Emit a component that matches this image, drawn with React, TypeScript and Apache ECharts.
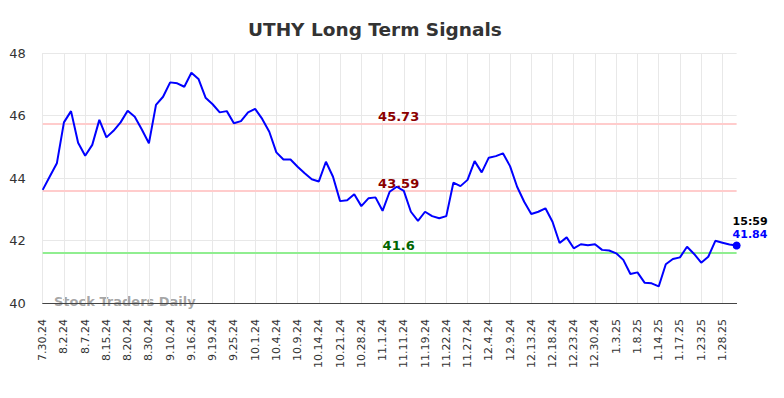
import React, { useEffect, useRef } from "react";
import * as echarts from "echarts";

const dates: string[] = [
  "7.30.24", "7.31.24", "8.1.24", "8.2.24", "8.5.24", "8.6.24", "8.7.24", "8.9.24", "8.13.24", "8.15.24",
  "8.16.24", "8.19.24", "8.20.24", "8.23.24", "8.27.24", "8.30.24", "9.4.24", "9.6.24", "9.10.24", "9.12.24",
  "9.13.24", "9.16.24", "9.17.24", "9.18.24", "9.19.24", "9.20.24", "9.23.24", "9.25.24", "9.26.24", "9.27.24",
  "10.1.24", "10.2.24", "10.3.24", "10.4.24", "10.7.24", "10.8.24", "10.9.24", "10.10.24", "10.11.24", "10.14.24",
  "10.16.24", "10.18.24", "10.21.24", "10.23.24", "10.25.24", "10.28.24", "10.30.24", "10.31.24", "11.1.24", "11.5.24",
  "11.7.24", "11.11.24", "11.14.24", "11.18.24", "11.19.24", "11.20.24", "11.21.24", "11.22.24", "11.25.24", "11.26.24",
  "11.27.24", "11.29.24", "12.3.24", "12.4.24", "12.5.24", "12.6.24", "12.9.24", "12.10.24", "12.12.24", "12.13.24",
  "12.16.24", "12.17.24", "12.18.24", "12.19.24", "12.20.24", "12.23.24", "12.24.24", "12.27.24", "12.30.24", "12.31.24",
  "1.2.25", "1.3.25", "1.6.25", "1.7.25", "1.8.25", "1.10.25", "1.13.25", "1.14.25", "1.15.25", "1.16.25",
  "1.17.25", "1.21.25", "1.22.25", "1.23.25", "1.24.25", "1.27.25", "1.28.25", "1.29.25", "1.30.25",
];

const prices: number[] = [
  43.62, 44.05, 44.47, 45.78, 46.14, 45.13, 44.71, 45.06, 45.86, 45.30,
  45.51, 45.78, 46.15, 45.96, 45.55, 45.11, 46.34, 46.60, 47.06, 47.03,
  46.92, 47.37, 47.17, 46.57, 46.36, 46.10, 46.14, 45.75, 45.82, 46.10,
  46.21, 45.89, 45.48, 44.82, 44.59, 44.59, 44.36, 44.15, 43.96, 43.89,
  44.52, 44.04, 43.26, 43.29, 43.48, 43.10, 43.35, 43.38, 42.95, 43.56,
  43.72, 43.59, 42.92, 42.63, 42.92, 42.78, 42.71, 42.78, 43.85, 43.74,
  43.94, 44.54, 44.18, 44.65, 44.70, 44.79, 44.38, 43.72, 43.24, 42.85,
  42.92, 43.03, 42.60, 41.92, 42.10, 41.75, 41.88, 41.85, 41.88, 41.70,
  41.68, 41.59, 41.38, 40.93, 40.98, 40.65, 40.63, 40.53, 41.24, 41.41,
  41.46, 41.80, 41.57, 41.29, 41.48, 41.99, 41.93, 41.87, 41.84,
];

const resistanceLevels: number[] = [45.73, 43.59];
const supportLevels: number[] = [41.6];
const yTicks: number[] = [40, 42, 44, 46, 48];
const lastTime = "15:59";
const titleText = "UTHY Long Term Signals";
const watermark = "Stock Traders Daily";

const FONT = "DejaVu Sans";

export default function App() {
  const ref = useRef<HTMLDivElement>(null);

  useEffect(() => {
    document.body.style.margin = "0";
    if (!ref.current) return;
    const chart = echarts.init(ref.current, undefined, { renderer: "svg" });
    const lastIdx = prices.length - 1;
    const seriesData = prices.map((v, i) =>
      i === lastIdx
        ? {
            value: v,
            symbol: "circle",
            symbolSize: 8,
            itemStyle: { color: "#0000ff" },
            label: {
              show: true,
              position: [0, -27],
              align: "left",
              verticalAlign: "top",
              formatter: () => `{t|${lastTime}}\n{v|${v.toFixed(2)}}`,
              rich: {
                t: { color: "#000", fontWeight: "bold", fontSize: 11, fontFamily: FONT, lineHeight: 13 },
                v: { color: "#0000ff", fontWeight: "bold", fontSize: 11, fontFamily: FONT, lineHeight: 13 },
              },
            },
          }
        : { value: v, symbol: "none" }
    );

    const mkLabel = (lv: number, color: string) => ({
      show: true,
      position: "middle",
      formatter: String(lv),
      color,
      fontWeight: "bold",
      fontSize: 13,
      fontFamily: FONT,
      offset: [9, 4],
    });

    const markData: any[] = [
      ...resistanceLevels.map((lv) => ({
        yAxis: lv,
        lineStyle: { color: "#ffcccc", width: 2, type: "solid" },
        label: mkLabel(lv, "#8b0000"),
      })),
      ...supportLevels.map((lv) => ({
        yAxis: lv,
        lineStyle: { color: "#90ee90", width: 2, type: "solid" },
        label: mkLabel(lv, "#006400"),
      })),
    ];

    chart.setOption({
      animation: false,
      backgroundColor: "#ffffff",
      title: {
        text: titleText,
        left: 243,
        top: 15,
        textStyle: { fontFamily: FONT, fontSize: 18.5, fontWeight: "bold", color: "#333333" },
      },
      graphic: [
        {
          type: "text",
          left: 54,
          top: 295,
          z: 0,
          style: {
            text: watermark,
            fill: "rgba(150,150,150,0.85)",
            font: `bold 13px "${FONT}"`,
          },
        },
      ],
      grid: { left: 42.7, right: 47.4, top: 53, bottom: 95, containLabel: false },
      xAxis: {
        type: "category",
        data: dates,
        boundaryGap: false,
        axisLine: { show: true, lineStyle: { color: "#444444", width: 1 } },
        axisTick: { show: false },
        axisLabel: {
          interval: 2,
          rotate: 90,
          margin: 16,
          fontSize: 11,
          fontFamily: FONT,
          color: "#333333",
        },
        splitLine: { show: true, interval: 2, lineStyle: { color: "#e8e8e8", width: 1 } },
      },
      yAxis: {
        type: "value",
        min: yTicks[0],
        max: yTicks[yTicks.length - 1],
        interval: 2,
        axisLine: { show: false },
        axisTick: { show: false },
        axisLabel: { fontSize: 13, fontFamily: FONT, color: "#333333", margin: 17 },
        splitLine: { show: true, lineStyle: { color: "#e8e8e8", width: 1 } },
      },
      series: [
        {
          type: "line",
          data: seriesData,
          showSymbol: true,
          showAllSymbol: true,
          clip: false,
          lineStyle: { color: "#0000ff", width: 2 },
          itemStyle: { color: "#0000ff" },
          z: 3,
          markLine: {
            silent: true,
            symbol: "none",
            z: 2,
            data: markData,
          },
        },
      ],
    });

    return () => chart.dispose();
  }, []);

  return <div ref={ref} style={{ width: 784, height: 398 }} />;
}
